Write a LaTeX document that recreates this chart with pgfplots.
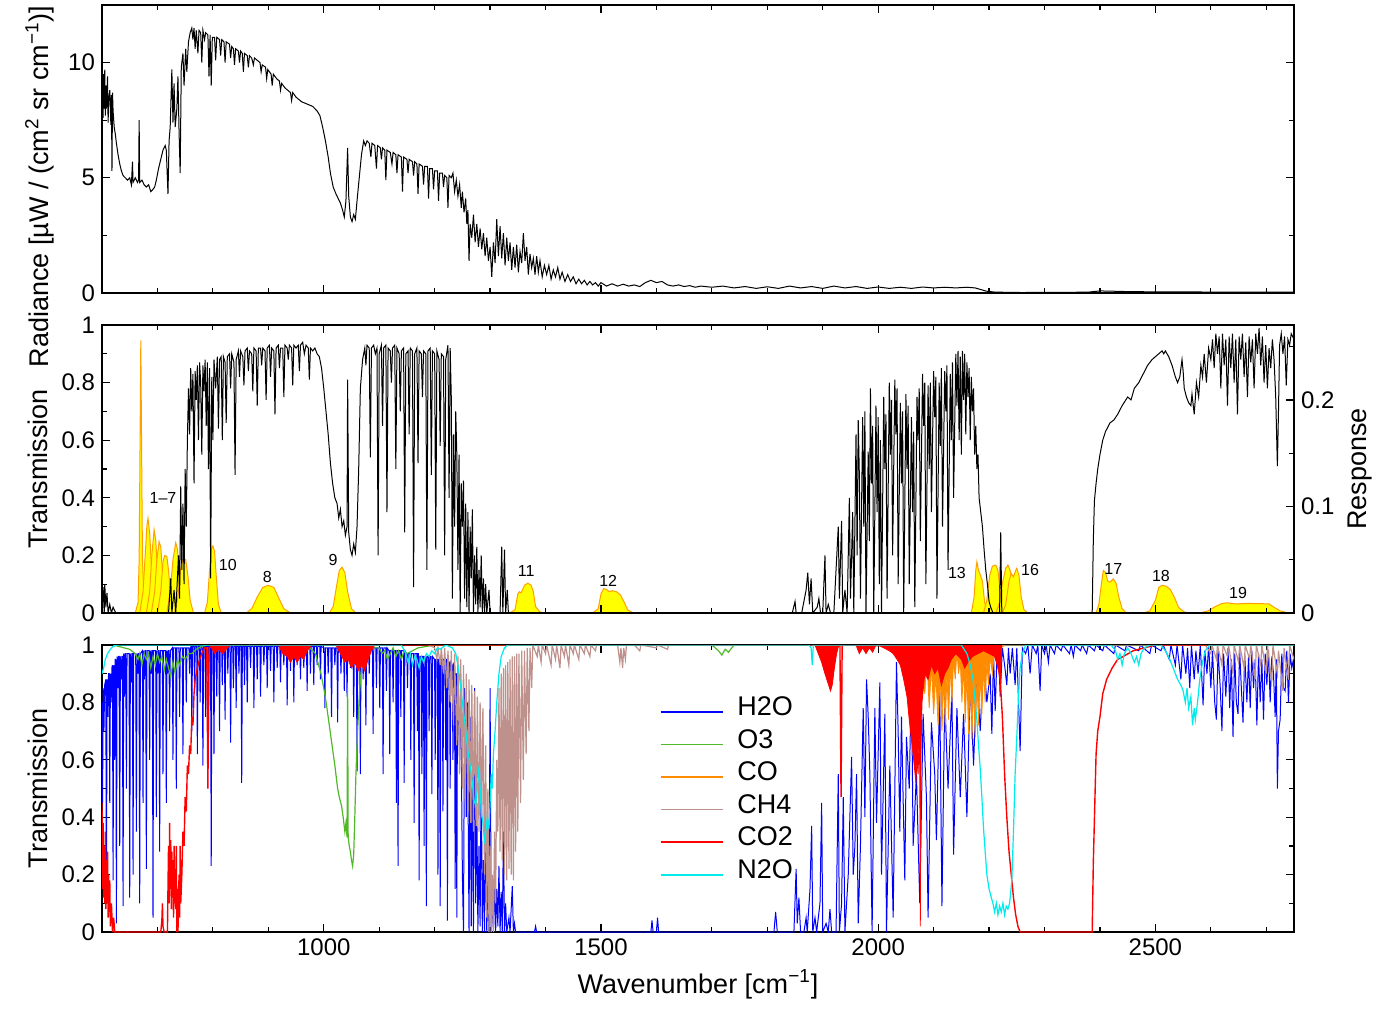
\documentclass[border=0pt]{standalone}
\usepackage{fontspec}
\setmainfont{Liberation Sans}
\usepackage{pgfplots}
\pgfplotsset{compat=1.18}
\definecolor{cH}{RGB}{0,0,255}
\definecolor{cO}{RGB}{80,185,40}
\definecolor{cCO}{RGB}{255,140,0}
\definecolor{cCH}{RGB}{190,145,140}
\definecolor{cC2}{RGB}{255,0,0}
\definecolor{cN}{RGB}{0,235,235}
\definecolor{fy}{RGB}{255,255,0}
\definecolor{fo}{RGB}{255,160,0}
\pgfplotsset{
  every axis/.append style={
    scale only axis, width=596pt,
    xmin=600, xmax=2750,
    axis line style={line width=0.6pt},
    tick style={line width=0.6pt, black},
    major tick length=4pt, minor tick length=2.5pt,
    xtick={1000,1500,2000,2500},
    minor xtick={700,800,900,1100,1200,1300,1400,1600,1700,1800,1900,2100,2200,2300,2400,2600,2700},
    tick label style={font=\fontsize{12}{14}\selectfont},
    label style={font=\fontsize{13.5}{16}\selectfont},
    /pgf/number format/assume math mode=true,
    /pgf/number format/1000 sep={},
  },
  filt/.style={fill=fy, draw=fo, line width=0.5pt},
}
\begin{document}
\begin{tikzpicture}
\path[use as bounding box] (-51pt,-38pt) rectangle (642.5pt,466pt);

% ---------------- top panel: radiance ----------------
\begin{axis}[at={(0,319.5pt)}, anchor=south west, height=144pt,
  ymin=0, ymax=12.5, ytick={0,5,10}, minor ytick={2.5,7.5,12.5},
  xticklabels={},
  ylabel={Radiance [µW / (cm\textsuperscript{2} sr cm\textsuperscript{−1})]},
  ylabel style={at={(ticklabel cs:0.37)}}]
\addplot[black, line width=0.5pt] coordinates {
(600,8.2) (601,9.3) (602,7.6) (603,9.5) (604,8.0) (605,9.7) (606,7.7) (607,9.0) (608,8.0) (610,9.4) (611,7.4) (612,8.3) (614,8.8) (616,7.3) (617,8.6) (618,5.3) (619,8.7) (620,7.9) (622,7.2) (624,6.9) (626,6.5) (629,6.0) (632,5.6) (635,5.3) (638,5.1) (642,5.0) (646,4.9) (650,5.0) (653,4.7) (655,5.7) (656,4.8) (660,5.0) (664,4.8) (666,4.9) (667,7.5) (668,4.8) (672,4.9) (676,4.7) (680,4.6) (684,4.7) (688,4.4) (692,4.5) (695,4.6) (698,4.9) (702,5.4) (706,5.8) (710,6.2) (714,6.4) (716,6.2) (719,4.3) (721,6.6) (723,7.2) (726,9.7) (728,7.4) (730,9.1) (732,7.2) (735,8.0) (737,9.4) (739,7.0) (741,5.2) (743,9.8) (746,10.4) (748,9.0) (751,10.6) (753,9.6) (756,10.9) (759,11.3) (762,11.5) (764,11.0) (766,11.5) (768,10.6) (770,11.4) (773,10.4) (775,11.4) (778,11.3) (780,10.0) (782,11.4) (785,11.0) (787,11.3) (791,11.2) (793,9.4) (795,11.2) (797,9.0) (799,11.1) (803,11.1) (805,10.1) (807,11.1) (812,11.0) (814,10.3) (816,11.0) (820,10.9) (822,10.0) (824,10.9) (830,10.8) (832,10.2) (834,10.7) (837,10.6) (839,9.9) (841,10.6) (846,10.5) (848,10.0) (850,10.5) (853,10.4) (855,9.6) (857,10.4) (862,10.3) (864,9.8) (866,10.3) (870,10.2) (873,9.9) (875,10.2) (880,10.1) (885,10.0) (887,9.6) (889,9.9) (895,9.8) (897,9.3) (899,9.7) (905,9.5) (907,9.0) (909,9.5) (915,9.3) (920,9.2) (922,8.8) (924,9.1) (930,8.9) (935,8.8) (940,8.7) (942,8.35) (944,8.7) (950,8.5) (960,8.3) (970,8.2) (980,8.1) (988,7.9) (993,7.7) (998,7.2) (1003,6.6) (1008,5.9) (1012,5.2) (1017,4.6) (1022,4.3) (1026,4.1) (1030,3.9) (1034,3.6) (1037,3.3) (1040,4.0) (1043,6.3) (1045,4.2) (1048,3.3) (1051,3.1) (1054,3.4) (1057,3.2) (1060,4.0) (1064,5.0) (1068,6.0) (1072,6.6) (1075,6.4) (1078,6.6) (1082,6.5) (1085,5.9) (1087,6.5) (1092,6.4) (1095,5.4) (1097,6.4) (1102,6.3) (1104,5.8) (1106,6.3) (1110,6.2) (1112,4.9) (1114,6.2) (1120,6.1) (1123,5.6) (1125,6.1) (1130,6.0) (1132,5.2) (1134,6.0) (1140,5.9) (1142,4.4) (1144,5.9) (1150,5.8) (1152,5.2) (1154,5.8) (1160,5.7) (1162,5.1) (1164,5.7) (1168,5.6) (1170,4.3) (1172,5.6) (1178,5.5) (1180,4.7) (1182,5.5) (1187,5.5) (1189,4.1) (1191,5.4) (1196,5.4) (1198,4.5) (1200,5.3) (1205,5.3) (1207,4.0) (1209,5.2) (1214,5.2) (1216,4.6) (1218,5.1) (1222,5.0) (1224,3.7) (1226,5.1) (1230,5.0) (1233,5.2) (1236,4.4) (1239,4.9) (1242,4.2) (1245,4.7) (1248,3.7) (1250,4.4) (1253,3.5) (1256,4.1) (1258,3.0) (1260,3.6) (1262,1.4) (1264,3.0) (1267,2.4) (1270,3.4) (1273,2.2) (1276,3.0) (1279,2.0) (1282,2.8) (1285,1.9) (1288,2.6) (1291,1.6) (1294,2.4) (1297,1.4) (1300,2.0) (1303,0.7) (1306,2.2) (1309,1.3) (1312,3.2) (1315,1.6) (1318,2.9) (1321,1.5) (1324,2.6) (1327,1.2) (1330,2.4) (1333,1.4) (1336,2.2) (1339,1.0) (1342,2.0) (1345,1.1) (1348,2.1) (1351,0.9) (1354,1.8) (1357,1.3) (1360,2.6) (1363,1.4) (1366,2.0) (1369,0.8) (1372,1.7) (1375,1.1) (1378,1.5) (1381,0.8) (1384,1.6) (1387,0.9) (1390,1.4) (1394,0.7) (1398,1.2) (1402,0.8) (1406,1.2) (1410,0.6) (1414,1.0) (1418,0.7) (1422,1.1) (1426,0.6) (1430,0.9) (1435,0.5) (1440,0.8) (1445,0.5) (1450,0.7) (1455,0.4) (1460,0.6) (1465,0.4) (1470,0.55) (1475,0.35) (1480,0.5) (1485,0.35) (1490,0.45) (1495,0.3) (1500,0.45) (1510,0.3) (1520,0.4) (1530,0.3) (1540,0.38) (1550,0.3) (1560,0.35) (1570,0.28) (1580,0.45) (1590,0.55) (1600,0.45) (1610,0.5) (1620,0.35) (1630,0.3) (1640,0.35) (1650,0.28) (1660,0.32) (1670,0.25) (1680,0.3) (1700,0.25) (1720,0.3) (1740,0.22) (1760,0.28) (1780,0.2) (1800,0.27) (1820,0.2) (1840,0.3) (1860,0.22) (1880,0.28) (1900,0.2) (1920,0.3) (1940,0.22) (1960,0.28) (1980,0.2) (2000,0.26) (2020,0.2) (2040,0.25) (2060,0.2) (2080,0.26) (2100,0.22) (2120,0.25) (2140,0.22) (2160,0.25) (2175,0.22) (2185,0.15) (2195,0.08) (2210,0.04) (2230,0.03) (2260,0.02) (2300,0.03) (2350,0.03) (2380,0.04) (2400,0.09) (2420,0.08) (2450,0.06) (2500,0.05) (2550,0.05) (2600,0.04) (2650,0.04) (2700,0.04) (2750,0.04)
};
\end{axis}

% ---------------- middle panel: filter responses (right axis) ----------------
\begin{axis}[at={(0,159.5pt)}, anchor=south west, height=144pt,
  ymin=0, ymax=0.2704, axis y line*=right, axis x line=none,
  ytick={0,0.1,0.2}, minor ytick={0.05,0.15,0.25},
  ylabel={Response}]
\addplot[filt] coordinates {(660,0) (665,0.01) (667,0.05) (668.5,0.15) (670,0.256) (671.5,0.15) (673,0.05) (676,0.01) (680,0)} \closedcycle;
\addplot[filt] coordinates {(668,0) (674,0.02) (678,0.055) (681,0.082) (683,0.089) (686,0.075) (689,0.045) (693,0.015) (698,0)} \closedcycle;
\addplot[filt] coordinates {(680,0) (686,0.02) (690,0.055) (694,0.078) (697,0.068) (700,0.04) (704,0.012) (709,0)} \closedcycle;
\addplot[filt] coordinates {(689,0) (695,0.02) (699,0.05) (703,0.067) (706,0.062) (709,0.04) (713,0.012) (718,0)} \closedcycle;
\addplot[filt] coordinates {(700,0) (706,0.02) (710,0.048) (713,0.054) (717,0.053) (720,0.04) (724,0.015) (729,0)} \closedcycle;
\addplot[filt] coordinates {(717,0) (723,0.02) (728,0.05) (733,0.066) (736,0.06) (739,0.04) (743,0.012) (748,0)} \closedcycle;
\addplot[filt] coordinates {(731,0) (737,0.015) (742,0.042) (746,0.05) (751,0.05) (755,0.035) (759,0.012) (765,0)} \closedcycle;
\addplot[filt] coordinates {(785,0) (790,0.01) (794,0.04) (797,0.06) (800,0.063) (803,0.058) (806,0.035) (810,0.008) (815,0)} \closedcycle;
\addplot[filt] coordinates {(860,0) (870,0.004) (880,0.015) (890,0.024) (900,0.026) (910,0.024) (918,0.015) (928,0.004) (940,0)} \closedcycle;
\addplot[filt] coordinates {(1010,0) (1017,0.006) (1023,0.025) (1028,0.04) (1033,0.043) (1038,0.038) (1043,0.02) (1050,0.004) (1058,0)} \closedcycle;
\addplot[filt] coordinates {(1335,0) (1345,0.003) (1350,0.018) (1353,0.02) (1356,0.019) (1362,0.026) (1368,0.028) (1374,0.026) (1378,0.02) (1382,0.006) (1390,0.001) (1398,0)} \closedcycle;
\addplot[filt] coordinates {(1485,0) (1495,0.004) (1500,0.018) (1505,0.023) (1510,0.022) (1515,0.02) (1520,0.021) (1528,0.02) (1535,0.017) (1542,0.01) (1548,0.003) (1558,0)} \closedcycle;
\addplot[filt] coordinates {(2168,0) (2173,0.015) (2176,0.04) (2178,0.048) (2181,0.04) (2184,0.036) (2188,0.03) (2192,0.01) (2197,0)} \closedcycle;
\addplot[filt] coordinates {(2190,0) (2196,0.012) (2201,0.035) (2206,0.044) (2212,0.045) (2216,0.04) (2220,0.02) (2226,0.004) (2232,0)} \closedcycle;
\addplot[filt] coordinates {(2212,0) (2218,0.008) (2224,0.028) (2230,0.042) (2234,0.045) (2238,0.04) (2242,0.028) (2247,0.008) (2254,0)} \closedcycle;
\addplot[filt] coordinates {(2224,0) (2230,0.008) (2236,0.03) (2240,0.037) (2244,0.034) (2248,0.04) (2250,0.042) (2254,0.035) (2258,0.015) (2263,0.003) (2270,0)} \closedcycle;
\addplot[filt] coordinates {(2393,0) (2398,0.008) (2402,0.025) (2406,0.04) (2410,0.038) (2414,0.03) (2418,0.029) (2424,0.032) (2429,0.028) (2434,0.015) (2440,0.004) (2448,0)} \closedcycle;
\addplot[filt] coordinates {(2478,0) (2490,0.002) (2500,0.012) (2506,0.024) (2512,0.026) (2520,0.025) (2527,0.022) (2534,0.015) (2542,0.005) (2552,0.001) (2560,0)} \closedcycle;
\addplot[filt] coordinates {(2580,0) (2595,0.002) (2608,0.006) (2620,0.009) (2630,0.0095) (2645,0.0085) (2665,0.009) (2690,0.0088) (2705,0.0085) (2715,0.005) (2725,0.002) (2740,0)} \closedcycle;
\end{axis}

% ---------------- middle panel: transmission ----------------
\begin{axis}[at={(0,159.5pt)}, anchor=south west, height=144pt,
  ymin=0, ymax=1, ytick={0,0.2,0.4,0.6,0.8,1}, minor ytick={0.1,0.3,0.5,0.7,0.9},
  ytick pos=left, xticklabels={}, ylabel={Transmission}]
\addplot[black, line width=0.5pt] coordinates {
(600,0) (602,0.09) (604,0) (605,0.1) (607,0.02) (609,0.07) (611,0) (614,0.03) (617,0) (620,0.02) (625,0) (720,0) (724,0.12) (726,0) (730,0.08) (733,0) (738,0.2) (740,0.05) (742,0.44) (744,0.15) (746,0.38) (748,0.1) (750,0.5) (752,0.3) (754,0.6) (756,0.78) (758,0.62) (760,0.85) (762,0.7) (764,0.83) (766,0.45) (768,0.84) (770,0.74) (772,0.86) (774,0.6) (776,0.87) (778,0.8) (780,0.55) (782,0.86) (784,0.77) (786,0.88) (788,0.65) (790,0.87) (792,0.5) (794,0.85) (796,0.12) (798,0.82) (800,0.6) (802,0.88) (805,0.78) (808,0.89) (810,0.64) (812,0.88) (815,0.89) (817,0.6) (819,0.89) (822,0.87) (824,0.66) (826,0.89) (830,0.9) (832,0.78) (834,0.9) (838,0.87) (840,0.48) (842,0.88) (846,0.91) (848,0.82) (850,0.91) (854,0.89) (856,0.79) (858,0.91) (862,0.92) (864,0.84) (866,0.91) (870,0.9) (872,0.77) (874,0.92) (878,0.91) (880,0.72) (882,0.92) (886,0.92) (888,0.86) (890,0.92) (894,0.91) (896,0.74) (898,0.92) (902,0.93) (904,0.82) (906,0.92) (910,0.91) (912,0.69) (914,0.92) (918,0.93) (920,0.85) (922,0.92) (926,0.92) (928,0.75) (930,0.93) (934,0.92) (936,0.88) (938,0.93) (942,0.92) (944,0.79) (946,0.93) (950,0.92) (954,0.93) (956,0.84) (958,0.93) (962,0.94) (965,0.9) (968,0.93) (972,0.92) (974,0.81) (976,0.92) (980,0.91) (984,0.92) (988,0.9) (992,0.89) (996,0.85) (1000,0.78) (1004,0.7) (1008,0.62) (1012,0.52) (1016,0.45) (1020,0.4) (1024,0.38) (1027,0.33) (1030,0.36) (1033,0.3) (1036,0.32) (1039,0.27) (1042,0.3) (1043,0.81) (1045,0.28) (1048,0.22) (1051,0.2) (1054,0.24) (1057,0.21) (1060,0.3) (1063,0.5) (1066,0.78) (1070,0.88) (1074,0.92) (1076,0.86) (1078,0.93) (1082,0.92) (1084,0.54) (1086,0.92) (1090,0.93) (1093,0.9) (1096,0.92) (1098,0.2) (1100,0.9) (1104,0.93) (1106,0.65) (1108,0.92) (1112,0.93) (1114,0.35) (1116,0.92) (1120,0.91) (1122,0.8) (1124,0.92) (1128,0.93) (1130,0.5) (1132,0.92) (1136,0.9) (1138,0.7) (1140,0.91) (1144,0.92) (1146,0.28) (1148,0.9) (1152,0.91) (1154,0.62) (1156,0.92) (1160,0.91) (1162,0.09) (1164,0.9) (1168,0.92) (1170,0.52) (1172,0.91) (1176,0.9) (1178,0.75) (1180,0.91) (1184,0.9) (1186,0.15) (1188,0.91) (1192,0.92) (1194,0.48) (1196,0.91) (1200,0.9) (1202,0.22) (1204,0.91) (1208,0.88) (1210,0.58) (1212,0.9) (1216,0.89) (1218,0.2) (1220,0.88) (1224,0.93) (1226,0.4) (1228,0.92) (1230,0.75) (1232,0.05) (1234,0.62) (1236,0.3) (1238,0.7) (1240,0.55) (1242,0.15) (1244,0.55) (1246,0) (1248,0.45) (1250,0.3) (1252,0.46) (1254,0.05) (1256,0.38) (1258,0.02) (1260,0.35) (1262,0) (1264,0.3) (1266,0.12) (1268,0.36) (1270,0) (1272,0.2) (1274,0.03) (1276,0.23) (1278,0) (1280,0.15) (1282,0.02) (1284,0.2) (1286,0) (1288,0.12) (1290,0) (1292,0.1) (1294,0) (1298,0.08) (1300,0) (1318,0) (1321,0.23) (1323,0) (1326,0.22) (1328,0) (1331,0.08) (1333,0) (1845,0) (1850,0.04) (1852,0) (1862,0) (1870,0.08) (1873,0.14) (1876,0.03) (1879,0.12) (1882,0) (1890,0.02) (1893,0.05) (1896,0) (1900,0) (1904,0.2) (1906,0) (1910,0.03) (1914,0) (1920,0) (1928,0.3) (1930,0.05) (1934,0.32) (1936,0) (1940,0.08) (1944,0) (1948,0.4) (1950,0.05) (1954,0.35) (1956,0) (1960,0.62) (1962,0.2) (1964,0.67) (1966,0.48) (1968,0.05) (1972,0.68) (1974,0.3) (1976,0.7) (1978,0) (1982,0.56) (1984,0.25) (1986,0.78) (1988,0.45) (1990,0.65) (1992,0) (1996,0.72) (1998,0.35) (2000,0.68) (2002,0.1) (2004,0.6) (2006,0) (2010,0.75) (2012,0.5) (2014,0.69) (2016,0.05) (2020,0.8) (2022,0.55) (2024,0.74) (2026,0.2) (2030,0.81) (2032,0.62) (2034,0.78) (2036,0.1) (2040,0.73) (2042,0.45) (2044,0.7) (2046,0) (2050,0.76) (2052,0.5) (2054,0.72) (2056,0.1) (2060,0.68) (2062,0.35) (2064,0.63) (2066,0.02) (2070,0.75) (2072,0.6) (2074,0.78) (2076,0.25) (2080,0.83) (2082,0.65) (2084,0.8) (2086,0.1) (2090,0.79) (2092,0.5) (2094,0.8) (2096,0.35) (2100,0.84) (2102,0.68) (2104,0.82) (2106,0.05) (2110,0.8) (2112,0.58) (2114,0.85) (2116,0.3) (2120,0.84) (2122,0.7) (2124,0.86) (2126,0.15) (2130,0.83) (2132,0.6) (2134,0.87) (2136,0.4) (2140,0.9) (2142,0.72) (2144,0.91) (2146,0.6) (2148,0.89) (2150,0.55) (2152,0.91) (2154,0.74) (2156,0.9) (2158,0.62) (2160,0.87) (2162,0.75) (2164,0.85) (2166,0.6) (2168,0.82) (2170,0.7) (2172,0.78) (2174,0.55) (2176,0.65) (2178,0.5) (2180,0.55) (2182,0.4) (2185,0.35) (2188,0.3) (2191,0.22) (2194,0.15) (2197,0.1) (2200,0.04) (2203,0.02) (2207,0) (2219,0) (2221,0.28) (2223,0) (2386,0) (2388,0.25) (2390,0.39) (2393,0.45) (2396,0.5) (2400,0.55) (2405,0.6) (2410,0.63) (2418,0.66) (2425,0.67) (2432,0.69) (2440,0.72) (2450,0.75) (2456,0.74) (2462,0.78) (2470,0.8) (2478,0.83) (2486,0.86) (2494,0.88) (2500,0.89) (2506,0.9) (2512,0.91) (2515,0.9) (2518,0.91) (2524,0.89) (2530,0.86) (2536,0.82) (2540,0.8) (2544,0.82) (2548,0.88) (2550,0.84) (2552,0.78) (2556,0.75) (2560,0.73) (2564,0.72) (2566,0.76) (2570,0.69) (2574,0.8) (2578,0.75) (2582,0.86) (2585,0.82) (2588,0.9) (2592,0.8) (2596,0.92) (2600,0.88) (2603,0.95) (2606,0.85) (2609,0.97) (2612,0.9) (2615,0.96) (2618,0.78) (2621,0.97) (2624,0.86) (2627,0.95) (2630,0.72) (2633,0.96) (2636,0.85) (2639,0.97) (2642,0.8) (2645,0.95) (2648,0.69) (2651,0.96) (2654,0.88) (2657,0.97) (2660,0.82) (2663,0.94) (2666,0.75) (2669,0.96) (2672,0.87) (2675,0.95) (2678,0.78) (2681,0.97) (2684,0.9) (2687,0.99) (2690,0.86) (2693,0.96) (2696,0.8) (2699,0.93) (2702,0.78) (2705,0.92) (2708,0.85) (2711,0.95) (2714,0.88) (2717,0.75) (2720,0.51) (2722,0.7) (2724,0.93) (2727,0.97) (2730,0.9) (2733,0.96) (2736,0.79) (2739,0.95) (2742,0.93) (2745,0.97) (2750,0.95)
};
\begin{scope}[font=\fontsize{8}{9}\selectfont]
\node at (axis cs:710,0.40) {1–7};
\node at (axis cs:827,0.167) {10};
\node at (axis cs:898,0.125) {8};
\node at (axis cs:1017,0.184) {9};
\node at (axis cs:1365,0.146) {11};
\node at (axis cs:1513,0.111) {12};
\node at (axis cs:2142,0.139) {13};
\node at (axis cs:2274,0.149) {16};
\node at (axis cs:2424,0.153) {17};
\node at (axis cs:2510,0.128) {18};
\node at (axis cs:2649,0.069) {19};
\end{scope}
\end{axis}

% ---------------- bottom panel: gas transmissions ----------------
\begin{axis}[at={(0,0)}, anchor=south west, height=143.5pt,
  ymin=0, ymax=1, ytick={0,0.2,0.4,0.6,0.8,1}, minor ytick={0.1,0.3,0.5,0.7,0.9},
  xlabel={Wavenumber [cm\textsuperscript{−1}]}, ylabel={Transmission},
  legend style={at={(rel axis cs:0.468,0.824)}, anchor=north west, draw=none, fill=none,
    inner sep=0pt, outer sep=0pt, font=\fontsize{13.5}{16}\selectfont,
    nodes={inner ysep=0pt, text height=10pt, text depth=6.3pt},
    /tikz/every odd column/.append style={column sep=5pt}},
  legend cell align=left,
  legend image code/.code={\draw[#1] (0pt,0pt) -- (31pt,0pt);}]
% H2O
\addplot[cH, line width=0.5pt, forget plot] coordinates {
(600,0.8) (601,0.45) (602.2,0.85) (603.5,0.7) (604.8,0.86) (606.8,0.88) (608,0.12) (609.2,0.88) (610.5,0.75) (611.8,0.9) (612.8,0.9) (614,0.45) (615.2,0.9) (616.5,0.8) (617.8,0.92) (618.8,0.93) (620,0.18) (621.2,0.93) (622.5,0.6) (623.8,0.95) (624.8,0.95) (626,0.03) (627.2,0.96) (628.5,0.85) (629.8,0.96) (630.8,0.96) (632,0.3) (633.2,0.96) (634.5,0.88) (635.8,0.96) (636.8,0.96) (638,0.09) (639.2,0.97) (640.5,0.82) (641.8,0.97) (642.8,0.97) (644,0.5) (645.2,0.97) (648.8,0.97) (650,0.12) (651.2,0.97) (652.5,0.87) (653.8,0.97) (654.8,0.97) (656,0.2) (657.2,0.97) (660.8,0.97) (662,0.35) (663.2,0.97) (664.5,0.9) (665.8,0.97) (666.8,0.97) (668,0.1) (669.2,0.97) (672.8,0.98) (674,0.45) (675.2,0.98) (676.5,0.88) (677.8,0.98) (678.8,0.98) (680,0.22) (681.2,0.98) (684.8,0.98) (686,0.6) (687.2,0.98) (688.5,0.9) (689.8,0.98) (690.8,0.98) (692,0.05) (693.2,0.98) (696.8,0.98) (698,0.4) (699.2,0.98) (700.5,0.9) (701.8,0.98) (702.8,0.98) (704,0.28) (705.2,0.98) (708.8,0.98) (710,0.55) (711.2,0.98) (714.8,0.98) (716,0.45) (717.2,0.98) (718.5,0.9) (719.8,0.98) (720.8,0.98) (722,0.7) (723.2,0.98) (726.8,0.99) (728,0.6) (729.2,0.99) (732.8,0.99) (734,0.5) (735.2,0.99) (738.8,0.99) (740,0.75) (741.2,0.99) (744.8,0.99) (746,0.62) (747.2,0.99) (750.8,0.99) (752,0.8) (753.2,0.99) (756.8,0.99) (758,0.9) (759.2,0.99)
(760.8,0.995) (762,0.7) (763.2,0.995) (765.8,0.995) (767,0.85) (768.2,0.995) (770.8,0.995) (772,0.62) (773.2,0.995) (775.8,0.995) (777,0.8) (778.2,0.995) (780.8,0.995) (782,0.58) (783.2,0.995) (785.8,0.995) (787,0.75) (788.2,0.995) (790.8,0.995) (792,0.68) (793.2,0.995) (795.8,0.995) (797,0.23) (798.2,0.995) (800.8,0.995) (802,0.62) (803.2,0.995) (805.8,0.995) (807,0.82) (808.2,0.995) (810.8,0.995) (812,0.7) (813.2,0.995) (815.8,0.995) (817,0.86) (818.2,0.995) (820.8,0.995) (822,0.74) (823.2,0.995) (825.8,0.995) (827,0.9) (828.2,0.995) (830.8,0.995) (832,0.66) (833.2,0.995) (835.8,0.995) (837,0.85) (838.2,0.995) (840.8,0.995) (842,0.78) (843.2,0.995) (845.8,0.995) (847,0.9) (848.2,0.995) (850.8,0.995) (852,0.52) (853.2,0.995) (855.8,0.995) (857,0.86) (858.2,0.995) (860.8,0.995) (862,0.8) (863.2,0.995) (866.8,0.995) (868,0.92) (869.2,0.995) (872.8,0.995) (874,0.78) (875.2,0.995) (878.8,0.995) (880,0.88) (881.2,0.995) (884.8,0.995) (886,0.82) (887.2,0.995) (890.8,0.995) (892,0.93) (893.2,0.995) (896.8,0.995) (898,0.85) (899.2,0.995) (902.8,0.995) (904,0.91) (905.2,0.995) (908.8,0.995) (910,0.8) (911.2,0.995) (914.8,0.995) (916,0.92) (917.2,0.995) (920.8,0.995) (922,0.87) (923.2,0.995) (926.8,0.995) (928,0.93) (929.2,0.995) (932.8,0.995) (934,0.79) (935.2,0.995) (938.8,0.995) (940,0.91) (941.2,0.995) (944.8,0.995) (946,0.8) (947.2,0.995) (950.8,0.995) (952,0.93) (953.2,0.995) (956.8,0.995) (958,0.88) (959.2,0.995) (962.8,0.995) (964,0.92) (965.2,0.995) (968.8,0.995) (970,0.84) (971.2,0.995) (974.8,0.995) (976,0.9) (977.2,0.995) (980.8,0.995) (982,0.86) (983.2,0.995) (986.8,0.995) (988,0.93) (989.2,0.995) (992.8,0.995) (994,0.88) (995.2,0.995)
(1000.8,0.99) (1002,0.78) (1003.2,0.99) (1006.8,0.99) (1008,0.9) (1009.2,0.99) (1012.8,0.99) (1014,0.75) (1015.2,0.99) (1018.8,0.99) (1020,0.93) (1021.2,0.99) (1023.8,0.99) (1025,0.73) (1026.2,0.99) (1029.8,0.99) (1031,0.9) (1032.2,0.99) (1035.8,0.99) (1037,0.84) (1038.2,0.99) (1040.8,0.99) (1042,0.82) (1043.2,0.99) (1046.8,0.99) (1048,0.92) (1049.2,0.99) (1052.8,0.99) (1054,0.75) (1055.2,0.99) (1058.8,0.99) (1060,0.56) (1061.2,0.99) (1064.8,0.99) (1066,0.55) (1067.2,0.99) (1069.8,0.99) (1071,0.88) (1072.2,0.99) (1074.8,0.99) (1076,0.72) (1077.2,0.99) (1080.8,0.99) (1082,0.9) (1083.2,0.99) (1087.8,0.99) (1089,0.69) (1090.2,0.99) (1093.8,0.99) (1095,0.85) (1096.2,0.99) (1099.8,0.99) (1101,0.78) (1102.2,0.99) (1105.8,0.99) (1107,0.55) (1108.2,0.99) (1111.8,0.99) (1113,0.84) (1114.2,0.99) (1117.8,0.98) (1119,0.62) (1120.2,0.98) (1123.8,0.98) (1125,0.8) (1126.2,0.98) (1129.8,0.98) (1131,0.45) (1132.2,0.98) (1132.8,0.98) (1134,0.23) (1135.2,0.98) (1137.8,0.98) (1139,0.75) (1140.2,0.98) (1143.8,0.98) (1145,0.52) (1146.2,0.98) (1149.8,0.97) (1151,0.85) (1152.2,0.97) (1155.8,0.97) (1157,0.6) (1158.2,0.97) (1161.8,0.97) (1163,0.38) (1164.2,0.97) (1167.8,0.97) (1169,0.7) (1170.2,0.97) (1170.8,0.97) (1172,0.18) (1173.2,0.96) (1175.8,0.96) (1177,0.55) (1178.2,0.96) (1179.8,0.96) (1181,0.3) (1182.2,0.96) (1183.8,0.96) (1185,0.09) (1186.2,0.96) (1188.8,0.96) (1190,0.7) (1191.2,0.96) (1193.8,0.96) (1195,0.48) (1196.2,0.96) (1199.8,0.95) (1201,0.6) (1202.2,0.95) (1204.8,0.95) (1206,0.2) (1207.2,0.95) (1208.8,0.95) (1210,0.09) (1211.2,0.95) (1213.8,0.95) (1215,0.42) (1216.2,0.95) (1218.8,0.95) (1220,0.6) (1221.2,0.95) (1221.8,0.95) (1223,0.04) (1224.2,0.94) (1226.8,0.94) (1228,0.5) (1229.2,0.94) (1231.8,0.93) (1233,0.6) (1234.2,0.93) (1235.8,0.92) (1237,0.15) (1238.2,0.9) (1238.8,0.9) (1240,0.05) (1241.2,0.9)
(1245,0.6) (1247,0.88) (1250,0.2) (1252,0) (1254,0.85) (1257,0.4) (1259,0.8) (1262,0) (1264,0.75) (1266,0.02) (1268,0.55) (1270,0) (1272,0.85) (1274,0.1) (1276,0.45) (1278,0) (1280,0.3) (1282,0.02) (1284,0.6) (1286,0) (1288,0.25) (1290,0) (1292,0.42) (1294,0) (1296,0.18) (1298,0) (1300,0.85) (1302,0) (1304,0.12) (1306,0) (1308,0.2) (1310,0) (1312,0.15) (1314,0.02) (1316,0.23) (1318,0) (1320,0.14) (1322,0) (1324,0.35) (1326,0) (1328,0.1) (1330,0) (1334,0.05) (1336,0) (1340,0.16) (1342,0) (1344,0.03) (1346,0) (1380,0) (1382,0.02) (1384,0) (1590,0) (1592,0.04) (1594,0) (1600,0) (1602,0.05) (1604,0) (1812,0) (1815,0.07) (1818,0) (1848,0) (1852,0.22) (1854,0.03) (1857,0.12) (1860,0) (1866,0) (1870,0.05) (1872,0) (1877,0.15) (1880,0.37) (1882,0) (1886,0.05) (1889,0) (1895,0.1) (1898,0.45) (1900,0) (1906,0.03) (1910,0) (1913,0.08) (1916,0) (1924,0) (1928,0.55) (1930,0) (1934,0.1) (1937,0.47) (1940,0) (1946,0.2) (1952,0.61) (1955,0.2) (1958,0.3) (1961,0.55) (1964,0.03) (1968,0.3) (1973,0.78) (1976,0.4) (1979,0.88) (1982,0.75) (1985,0.55) (1989,0) (1994,0.78) (1997,0.38) (2003,0.87) (2006,0.2) (2012,0.76) (2015,0) (2021,0.58) (2027,0.05) (2033,0.94) (2036,0.7) (2039,0.35) (2042,0.75) (2048,0.18) (2051,0.68) (2056,0.5) (2060,0.9) (2063,0.3) (2069,0.55) (2075,0.1) (2081,0.76) (2087,0.47) (2090,0.05) (2096,0.73) (2102,0.55) (2105,0.32) (2111,0.84) (2115,0.09) (2120,0.82) (2126,0.5) (2133,0.84) (2136,0.27) (2142,0.78) (2148,0.47) (2154,0.76) (2160,0.4) (2166,0.88) (2172,0.58) (2178,0.91) (2184,0.7) (2190,0.95) (2196,0.8) (2202,0.9) (2205,0.69) (2208,0.97) (2211,0.77) (2214,0.95) (2217,0.99) (2220,0.82) (2224,0.99) (2228,0.93) (2232,0.86) (2235,0.99) (2238,0.9) (2242,0.99) (2247,0.86) (2250,0.99) (2256,0.63) (2260,0.99) (2266,0.97) (2270,1) (2274,0.9) (2278,1) (2285,0.97) (2288,1) (2292,0.84) (2295,1) (2300,0.97) (2303,1) (2307,0.94) (2310,1) (2318,0.97) (2321,1) (2330,0.98) (2333,1) (2345,0.97) (2348,1) (2352,0.96) (2355,1) (2365,0.98) (2368,1) (2376,0.97) (2379,1) (2390,0.98) (2393,1) (2405,0.98) (2408,1) (2425,0.97) (2428,1) (2445,0.98) (2448,1) (2470,0.98) (2473,1) (2490,0.97) (2493,1) (2510,0.98) (2514,1) (2525,0.95) (2528,1) (2536,0.93) (2539,1) (2546,0.88) (2549,1) (2555,0.9) (2558,0.99) (2562,0.85) (2565,1) (2570,0.88) (2573,0.98) (2577,0.9) (2581,1) (2586,0.79) (2589,0.98) (2593,0.9) (2596,1) (2600,0.85) (2603,0.98) (2607,0.8) (2610,0.74) (2613,0.98) (2617,0.85) (2620,0.7) (2623,0.97) (2627,0.82) (2631,0.99) (2634,0.78) (2637,0.95) (2640,0.68) (2643,0.97) (2646,0.8) (2649,0.76) (2652,0.98) (2655,0.85) (2658,0.73) (2661,0.97) (2665,0.8) (2668,0.96) (2671,0.78) (2674,0.98) (2677,0.85) (2680,0.95) (2683,0.72) (2686,0.97) (2689,0.8) (2692,0.95) (2695,0.74) (2698,0.97) (2701,0.86) (2704,0.98) (2707,0.8) (2710,0.96) (2713,0.9) (2716,0.75) (2718,0.95) (2720,0.5) (2722,0.7) (2725,0.74) (2728,0.97) (2731,0.85) (2734,0.84) (2737,0.98) (2740,0.8) (2743,0.97) (2746,0.92) (2750,0.96)
};
% O3
\addplot[cO, line width=0.6pt, forget plot] coordinates {
(620,1) (640,0.99) (650,0.985) (660,0.97) (665,0.95) (668,0.97) (672,0.93) (676,0.97) (680,0.95) (684,0.97) (688,0.92) (692,0.96) (696,0.93) (700,0.97) (704,0.94) (708,0.96) (712,0.91) (716,0.95) (720,0.92) (724,0.89) (728,0.94) (732,0.9) (736,0.95) (740,0.93) (745,0.96) (750,0.95) (756,0.97) (762,0.97) (770,0.985) (780,0.995) (790,1) (960,1) (975,0.99) (985,0.97) (995,0.9) (1000,0.85) (1005,0.79) (1010,0.72) (1015,0.65) (1020,0.58) (1025,0.5) (1028,0.47) (1032,0.44) (1035,0.4) (1038,0.35) (1040,0.38) (1042,0.33) (1043,0.85) (1044,0.33) (1046,0.3) (1048,0.28) (1050,0.25) (1052,0.23) (1054,0.27) (1056,0.4) (1058,0.55) (1061,0.7) (1064,0.82) (1067,0.9) (1071,0.96) (1075,0.98) (1080,0.99) (1100,0.99) (1105,0.97) (1110,0.98) (1115,0.95) (1120,0.97) (1125,0.99) (1130,0.96) (1135,0.98) (1140,0.95) (1145,0.98) (1150,0.97) (1160,0.98) (1170,0.99) (1200,1) (1700,1) (1712,0.98) (1718,0.965) (1724,0.985) (1730,0.975) (1740,1) (2750,1)
};
% CO (filled)
\addplot[cCO, fill=cCO, line width=0.4pt, forget plot] coordinates {
(2030,1) (2040,0.99) (2050,0.97) (2056,0.99) (2060,0.95) (2064,0.98) (2068,0.92) (2072,0.97) (2076,0.88) (2080,0.96) (2084,0.83) (2088,0.95) (2092,0.78) (2096,0.93) (2100,0.76) (2104,0.9) (2108,0.72) (2112,0.9) (2115,0.7) (2118,0.88) (2121,0.72) (2124,0.9) (2127,0.74) (2130,0.93) (2133,0.8) (2136,0.95) (2139,0.88) (2142,0.98) (2145,0.9) (2148,0.95) (2151,0.8) (2154,0.93) (2157,0.73) (2160,0.9) (2163,0.69) (2166,0.88) (2169,0.67) (2172,0.86) (2175,0.68) (2178,0.88) (2181,0.72) (2184,0.9) (2187,0.76) (2190,0.92) (2193,0.8) (2196,0.94) (2199,0.86) (2202,0.96) (2206,0.9) (2210,0.98) (2214,0.95) (2220,0.99) (2230,1)
};
% CH4
\addplot[cCH, line width=0.6pt, forget plot] coordinates {
(1190,1) (1200,0.99) (1204,0.95) (1206,0.99) (1210,0.93) (1212,0.99) (1216,0.9) (1218,0.99) (1222,0.85) (1224,0.98) (1228,0.8) (1230,0.98) (1234,0.72) (1236,0.97) (1240,0.65) (1242,0.96) (1245,0.55) (1247,0.95) (1250,0.5) (1252,0.93) (1255,0.45) (1257,0.9) (1260,0.42) (1262,0.88) (1265,0.38) (1267,0.86) (1270,0.35) (1272,0.84) (1275,0.37) (1277,0.82) (1280,0.35) (1282,0.8) (1285,0.4) (1287,0.78) (1290,0.2) (1292,0.65) (1294,0.05) (1296,0.5) (1298,0) (1300,0.3) (1302,0) (1304,0.2) (1306,0) (1308,0.35) (1310,0.1) (1312,0.6) (1314,0.35) (1316,0.85) (1318,0.28) (1320,0.9) (1322,0.25) (1324,0.92) (1326,0.2) (1328,0.93) (1330,0.18) (1332,0.94) (1334,0.22) (1336,0.95) (1338,0.2) (1340,0.96) (1342,0.18) (1344,0.96) (1346,0.28) (1348,0.97) (1350,0.35) (1352,0.97) (1355,0.45) (1357,0.98) (1360,0.53) (1362,0.98) (1365,0.62) (1367,0.99) (1370,0.7) (1372,0.99) (1375,0.85) (1377,1) (1385,0.96) (1387,1) (1392,0.94) (1394,1) (1400,0.97) (1402,1) (1410,0.93) (1412,1) (1418,0.95) (1420,1) (1426,0.92) (1428,1) (1434,0.96) (1436,1) (1442,0.93) (1444,1) (1450,0.97) (1452,1) (1460,0.95) (1462,1) (1470,0.97) (1472,1) (1480,0.96) (1482,1) (1490,0.98) (1492,1) (1530,1) (1534,0.94) (1536,0.99) (1539,0.92) (1541,0.99) (1544,0.95) (1546,1) (1560,1) (1570,0.98) (1572,1) (1600,0.99) (1602,1) (1620,0.985) (1622,1) (2590,1) (2600,0.97) (2602,1) (2610,0.95) (2612,1) (2620,0.93) (2622,1) (2630,0.96) (2632,1) (2640,0.9) (2642,1) (2650,0.94) (2652,1) (2660,0.92) (2662,1) (2670,0.95) (2672,1) (2680,0.88) (2682,1) (2690,0.93) (2692,1) (2700,0.9) (2702,1) (2710,0.87) (2712,1) (2720,0.9) (2722,0.98) (2730,0.84) (2732,0.99) (2740,0.88) (2742,1) (2750,0.95)
};
% CO2 filled pieces
\addplot[cC2, fill=cC2, line width=0.4pt, forget plot] coordinates {(795,1) (803,0.97) (810,0.985) (818,0.97) (826,0.99) (832,1)};
\addplot[cC2, fill=cC2, line width=0.4pt, forget plot] coordinates {(918,1) (926,0.97) (934,0.96) (940,0.94) (946,0.96) (952,0.94) (958,0.96) (964,0.95) (970,0.98) (978,1)};
\addplot[cC2, fill=cC2, line width=0.4pt, forget plot] coordinates {(1022,1) (1030,0.97) (1038,0.94) (1044,0.95) (1050,0.92) (1056,0.94) (1062,0.91) (1068,0.93) (1074,0.91) (1080,0.95) (1086,0.98) (1092,1)};
\addplot[cC2, fill=cC2, line width=0.4pt, forget plot] coordinates {(1886,1) (1892,0.97) (1898,0.94) (1904,0.9) (1909,0.87) (1914,0.84) (1917,0.86) (1921,0.92) (1925,0.97) (1929,1)};
\addplot[cC2, fill=cC2, line width=0.4pt, forget plot] coordinates {(1960,1) (1966,0.97) (1972,0.99) (1978,0.97) (1984,0.99) (1990,0.975) (1996,1)};
\addplot[cC2, fill=cC2, line width=0.4pt, forget plot] coordinates {(2000,1) (2010,0.99) (2020,0.98) (2027,0.97) (2034,0.95) (2040,0.93) (2046,0.88) (2052,0.82) (2056,0.74) (2060,0.67) (2063,0.62) (2066,0.56) (2068,0.52) (2070,0.6) (2072,0.55) (2074,0.7) (2075,0.55) (2076,0.02) (2077,0.6) (2079,0.8) (2084,0.9) (2090,0.88) (2096,0.93) (2102,0.9) (2108,0.92) (2114,0.86) (2120,0.9) (2126,0.92) (2132,0.95) (2140,0.97) (2150,0.95) (2156,0.92) (2162,0.94) (2170,0.96) (2180,0.97) (2190,0.98) (2200,0.97) (2210,0.96) (2216,0.92) (2221,0.88) (2223,1)};
% CO2 line
\addplot[cC2, line width=0.7pt, forget plot] coordinates {
(600,0.45) (601,0.15) (602,0.38) (603,0.12) (604,0.3) (605,0.1) (606,0.35) (607,0.08) (608,0.25) (609,0.1) (610,0.28) (611,0.05) (612,0.2) (613,0.07) (614,0.18) (615,0.02) (617,0.1) (619,0) (621,0.05) (623,0) (706,0) (708,0.04) (709,0.1) (710,0.02) (712,0) (718,0) (720,0.3) (721,0.1) (722,0.38) (723,0.15) (724,0.32) (725,0.08) (726,0.28) (727,0.12) (728,0.25) (729,0.05) (730,0.3) (731,0.1) (732,0.22) (733,0.08) (734,0.3) (735,0) (736,0.15) (737,0) (739,0.2) (740,0.05) (741,0.3) (742,0.1) (744,0.2) (746,0.35) (748,0.3) (750,0.47) (752,0.42) (754,0.58) (756,0.55) (758,0.65) (760,0.62) (762,0.75) (764,0.72) (766,0.83) (768,0.88) (772,0.92) (776,0.95) (780,0.97) (785,0.99) (789,0.99) (791,0.5) (793,0.99) (800,1) (1931,1) (1933,0.47) (1935,1) (2205,0.99) (2210,0.97) (2215,0.94) (2220,0.88) (2224,0.75) (2228,0.55) (2232,0.4) (2236,0.28) (2240,0.2) (2244,0.12) (2248,0.06) (2252,0.02) (2256,0) (2386,0) (2388,0.24) (2391,0.47) (2393,0.62) (2396,0.7) (2400,0.75) (2405,0.83) (2412,0.88) (2422,0.92) (2432,0.95) (2442,0.96) (2460,0.98) (2480,0.99) (2500,1) (2750,1)
};
% N2O
\addplot[cN, line width=0.6pt, forget plot] coordinates {
(600,0.9) (603,0.92) (606,0.95) (610,0.97) (615,0.985) (620,0.995) (628,1) (1140,1) (1148,0.97) (1152,0.94) (1156,0.97) (1160,0.93) (1164,0.96) (1168,0.95) (1172,0.92) (1176,0.96) (1180,0.94) (1185,0.97) (1190,0.96) (1195,0.98) (1200,0.97) (1205,0.99) (1210,0.985) (1220,1) (1232,0.99) (1238,0.97) (1242,0.93) (1246,0.87) (1250,0.8) (1255,0.72) (1260,0.63) (1264,0.58) (1268,0.52) (1271,0.46) (1274,0.44) (1276,0.48) (1278,0.52) (1280,0.58) (1282,0.5) (1284,0.42) (1287,0.38) (1290,0.32) (1293,0.36) (1295,0.4) (1298,0.36) (1300,0.45) (1302,0.55) (1304,0.5) (1306,0.62) (1309,0.7) (1312,0.8) (1316,0.9) (1320,0.96) (1326,0.99) (1332,1) (1875,1) (1879,0.99) (1881,0.93) (1883,1) (2150,1) (2160,0.97) (2166,0.93) (2171,0.88) (2175,0.8) (2178,0.74) (2181,0.65) (2184,0.57) (2187,0.47) (2190,0.36) (2193,0.28) (2196,0.2) (2200,0.15) (2204,0.12) (2207,0.1) (2210,0.07) (2213,0.1) (2216,0.06) (2219,0.09) (2222,0.07) (2225,0.1) (2228,0.06) (2231,0.09) (2234,0.08) (2237,0.1) (2241,0.18) (2244,0.35) (2247,0.55) (2250,0.68) (2253,0.82) (2256,0.92) (2260,0.97) (2266,1) (2420,1) (2428,0.98) (2432,0.95) (2436,0.97) (2440,0.93) (2444,0.97) (2450,0.99) (2456,0.97) (2462,0.94) (2466,0.96) (2470,0.93) (2474,0.97) (2480,0.99) (2490,1) (2510,1) (2518,0.98) (2526,0.95) (2534,0.91) (2540,0.88) (2546,0.86) (2550,0.84) (2554,0.8) (2557,0.85) (2560,0.78) (2564,0.82) (2567,0.72) (2570,0.78) (2572,0.74) (2576,0.8) (2580,0.88) (2585,0.94) (2590,0.98) (2598,1) (2750,1)
};
\addlegendimage{color=cH, line width=0.8pt}\addlegendentry{H2O}
\addlegendimage{color=cO, line width=0.8pt}\addlegendentry{O3}
\addlegendimage{color=cCO, line width=0.8pt}\addlegendentry{CO}
\addlegendimage{color=cCH, line width=0.8pt}\addlegendentry{CH4}
\addlegendimage{color=cC2, line width=0.8pt}\addlegendentry{CO2}
\addlegendimage{color=cN, line width=0.8pt}\addlegendentry{N2O}
\end{axis}
\end{tikzpicture}
\end{document}
